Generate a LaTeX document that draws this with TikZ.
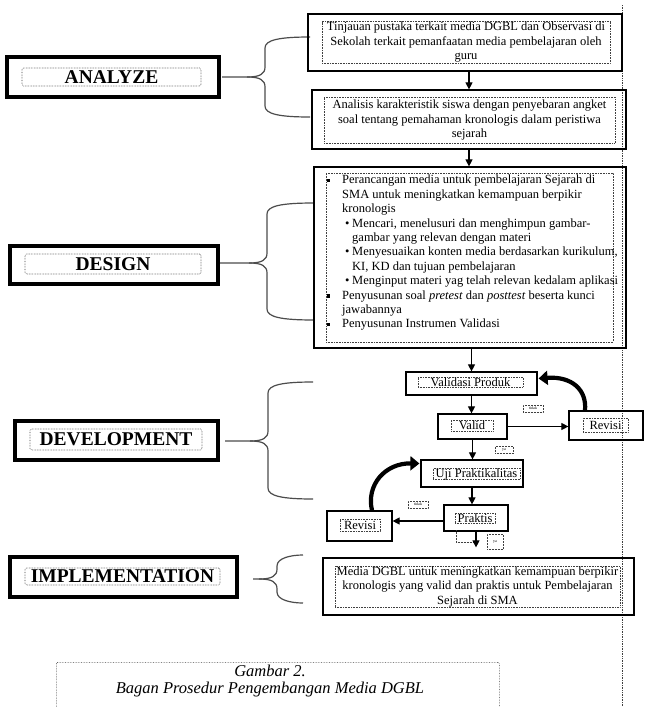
\documentclass[tikz,border=0pt]{standalone}
\usepackage{fontspec}
\setmainfont{Liberation Serif}
\usetikzlibrary{arrows.meta,calc}
\newcommand{\sqb}{\rule[0.25ex]{3.2pt}{3.2pt}}
\newcommand{\mybrace}[6]{%
 \draw[bracestyle] (#1,#2) .. controls (#4+14,#2) and (#4,#2+3) .. (#4,#2+11) -- (#4,#6-10) .. controls (#4,#6-3) and (#4-5,#6) .. (#4-18,#6) -- (#5,#6);
 \draw[bracestyle] (#1,#3) .. controls (#4+14,#3) and (#4,#3-3) .. (#4,#3-11) -- (#4,#6+10) .. controls (#4,#6+3) and (#4-5,#6) .. (#4-18,#6);
}
\begin{document}
\begin{tikzpicture}[x=1pt,y=-1pt,
  box/.style 2 args={draw, line width=1.2pt, inner sep=0pt, minimum width=#1pt, minimum height=#2pt},
  dbox/.style 2 args={draw=black!75, densely dotted, line width=0.6pt, inner sep=0pt, minimum width=#1pt, minimum height=#2pt},
  lbox/.style 2 args={draw, line width=3.5pt, inner sep=0pt, minimum width=#1pt, minimum height=#2pt},
  ldbox/.style 2 args={draw=black!75, densely dotted, line width=0.6pt, rounded corners=1.5pt, inner sep=0pt, minimum width=#1pt, minimum height=#2pt, font=\bfseries\fontsize{19.5}{20}\selectfont},
  body/.style={font=\fontsize{12.5}{14.5}\selectfont, align=center},
  tiny/.style 2 args={draw=black!75, densely dotted, line width=0.5pt, inner sep=0pt, minimum width=#1pt, minimum height=#2pt, font=\fontsize{4}{4}\selectfont},
  arr/.style={line width=1.1pt, -{Triangle[width=7pt,length=7pt]}},
  bigarr/.style={line width=4.2pt, -{Triangle[width=14pt,length=9pt]}},
  bracestyle/.style={draw=black!70, line width=1.2pt}
]
\useasboundingbox (0,0) rectangle (652,707);
\fill[white] (0,0) rectangle (652,707);

% vertical dotted line
\coordinate (vtop) at (622.5,5);
\coordinate (vbot) at (622.5,707);
\draw[black!75, densely dotted, line width=0.7pt] (vtop) -- (vbot);

% left labels
\node[lbox={212}{40}] (lan) at (113,77) {};
\node[ldbox={179}{18}] (lant) at (111.5,77) {ANALYZE};
\node[lbox={208}{38}] (lde) at (114,265) {};
\node[ldbox={176}{20}] (ldet) at (113,264) {DESIGN};
\node[lbox={203}{39}] (ldv) at (116.5,440.5) {};
\node[ldbox={172}{21}] (ldvt) at (116,439.5) {DEVELOPMENT};
\node[lbox={227}{40}] (lim) at (123.5,577) {};
\node[ldbox={195}{17}] (limt) at (122.5,576.5) {IMPLEMENTATION};

% braces
\mybrace{310}{37}{117}{265}{222}{77}
\mybrace{314}{203}{320}{267}{220}{263}
\mybrace{313}{382}{499}{268}{225}{441}
\mybrace{303}{555}{603}{277}{253}{579}

% analyze boxes
\node[box={314}{57}] (a1) at (465,42.5) {};
\node[dbox={288}{42}, body] (a1t) at (466,42.5) {Tinjauan pustaka terkait media DGBL dan Observasi di\\Sekolah terkait pemanfaatan media pembelajaran oleh\\guru};
\node[box={314}{59}] (a2) at (469,119.5) {};
\node[dbox={291}{46}, body] (a2t) at (469.5,120) {Analisis karakteristik siswa dengan penyebaran angket\\soal tentang pemahaman kronologis dalam peristiwa\\sejarah};

% design box
\node[box={312}{181}] (ds) at (470,257.5) {};
\node[dbox={287}{169}] (dsd) at (469.5,257.5) {};
\node[anchor=north west, inner sep=0pt, align=left, font=\fontsize{12.5}{14.4}\selectfont] (dst) at (327,175) {%
\makebox[15pt][l]{\sqb}Perancangan media untuk pembelajaran Sejarah di\\
\hspace*{15pt}SMA untuk meningkatkan kemampuan berpikir\\
\hspace*{15pt}kronologis\\
\hspace*{18pt}\makebox[7pt][l]{\textbullet}Mencari, menelusuri dan menghimpun gambar-\\
\hspace*{25pt}gambar yang relevan dengan materi\\
\hspace*{18pt}\makebox[7pt][l]{\textbullet}Menyesuaikan konten media berdasarkan kurikulum,\\
\hspace*{25pt}KI, KD dan tujuan pembelajaran\\
\hspace*{18pt}\makebox[7pt][l]{\textbullet}Menginput materi yag telah relevan kedalam aplikasi\\
\makebox[15pt][l]{\sqb}Penyusunan soal \textit{pretest} dan \textit{posttest} beserta kunci\\
\hspace*{15pt}jawabannya\\
\makebox[15pt][l]{\sqb}Penyusunan Instrumen Validasi};

% development flow
\node[box={131}{23}] (vp) at (471.5,383.5) {};
\node[dbox={105}{10}, body] (vpt) at (470.5,382) {Validasi Produk};
\node[box={69}{25}] (va) at (472.5,426.5) {};
\node[dbox={42}{11}, body] (vat) at (472,425.5) {Valid};
\node[box={74}{29}] (rr) at (606,425.5) {};
\node[dbox={45}{14}, body] (rrt) at (605.5,425) {Revisi};
\node[box={102}{27}] (uj) at (472,473.5) {};
\node[dbox={87}{10}, body] (ujt) at (476.5,474) {Uji Praktikalitas};
\node[box={64}{26}] (pr) at (476,518) {};
\node[dbox={40}{10}, body] (prt) at (475,518) {Praktis};
\node[box={65}{30}] (rl) at (359.5,526) {};
\node[dbox={40}{12}, body] (rlt) at (360,525) {Revisi};

\node[tiny={20}{7}] (t1) at (533,408.5) {tidak};
\node[tiny={18}{7}] (y1) at (504,449.5) {ya};
\node[tiny={20}{7}] (t2) at (418,504.5) {tidak};
\node[tiny={16}{15}, anchor=north, inner sep=1pt] (y2) at (495,534) {ya};
\draw[black!75, densely dotted, line width=0.5pt] (456,530) -- (456,542) -- (473,542);

% implementation box
\node[box={311}{57}] (im) at (478.5,586.5) {};
\node[dbox={285}{41}, body] (imt) at (477.5,586.5) {Media DGBL untuk meningkatkan kemampuan berpikir\\kronologis yang valid dan praktis untuk Pembelajaran\\Sejarah di SMA};

% arrows
\draw[arr] (a2.north |- a1.south) -- (a2.north);
\draw[arr] (a2.south) -- (a2.south |- ds.north);
\draw[arr] (vp.north |- ds.south) -- (vp.north);
\draw[arr] (vp.south) -- (vp.south |- va.north);
\draw[arr] (va.east) -- (va.east -| rr.west);
\draw[arr] (va.south) -- (va.south |- uj.north);
\draw[arr] (uj.south) -- (uj.south |- pr.north);
\draw[arr] ([yshift=-3pt]pr.west) -- ([yshift=-3pt]pr.west -| rl.east);
\draw[arr, shorten >=10pt] (pr.south) -- (pr.south |- im.north);
\draw[bigarr] ($(rr.north)+(-21,0)$) .. controls (587,390) and (572,376) .. ($(vp.east)+(1,-5)$);
\draw[bigarr] ($(rl.north)+(12.5,0)$) .. controls (366,485) and (385,463) .. ($(uj.west)+(-1,-10)$);

% caption
\node[draw=black!75, densely dotted, line width=0.6pt, rounded corners=1.5pt, minimum width=443pt, minimum height=60pt, anchor=north west, inner sep=0pt] (cap) at (56,662) {};
\node[font=\itshape\fontsize{16.5}{18}\selectfont, inner sep=0pt] (cap1) at (270,671) {Gambar 2.};
\node[font=\itshape\fontsize{16.5}{18}\selectfont, inner sep=0pt] (cap2) at (270,690) {Bagan Prosedur Pengembangan Media DGBL};
\end{tikzpicture}
\end{document}
